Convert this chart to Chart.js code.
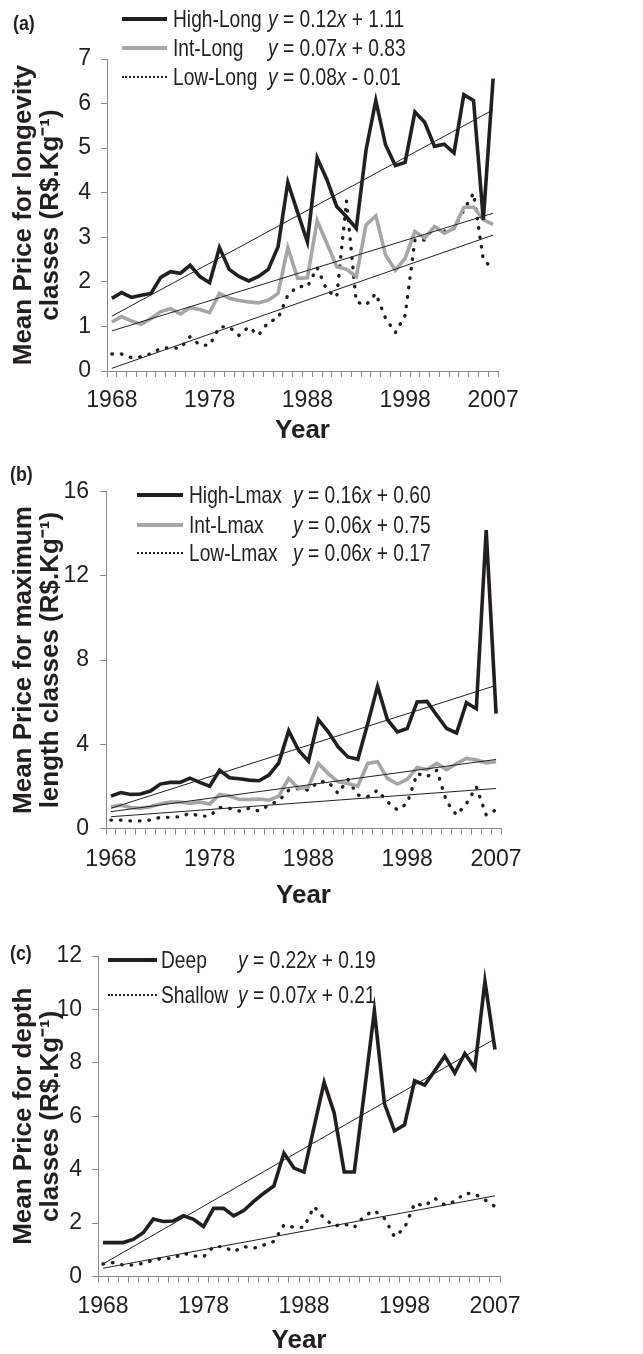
<!DOCTYPE html>
<html>
<head>
<meta charset="utf-8">
<script src="https://cdn.jsdelivr.net/npm/chart.js@4.4.1/dist/chart.umd.min.js"></script>
<style>
html,body{margin:0;padding:0;background:#fff;}
#wrap{position:relative;width:643px;height:1354px;overflow:hidden;font-family:'Liberation Sans',Arial,Helvetica,sans-serif;color:#231f20;}
canvas{position:absolute;left:0;}
.t{position:absolute;white-space:nowrap;font-size:24px;line-height:24px;transform:scaleX(0.8);transform-origin:0 50%;}
.pl{position:absolute;white-space:nowrap;font-weight:bold;font-size:21px;line-height:21px;transform:scaleX(0.85);transform-origin:0 50%;}
.sw{position:absolute;height:0;}
</style>
</head>
<body>
<div id="wrap">
  <canvas id="ca" width="643" height="444" style="top:0px"></canvas>
  <canvas id="cb" width="643" height="465" style="top:444px"></canvas>
  <canvas id="cc" width="643" height="445" style="top:909px"></canvas>
</div>
<script>
// ---------- DATA ----------
const years = ['1968','1969','1970','1971','1972','1973','1974','1975','1976','1977',
               '1978','1979','1980','1981','1982','1983','1984','1985','1986','1987',
               '1988','1989','1990','1991','1992','1993','1994','1995','1996','1997',
               '1998','1999','2000','2001','2002','2003','2004','2005','2006','2007'];
const xTickLabels = ['1968','1978','1988','1998','2007'];

// (a) longevity classes
const namesA = ['High-Long','Int-Long','Low-Long'];
const eqA = ['y = 0.12x + 1.11','y = 0.07x + 0.83','y = 0.08x - 0.01'];
const highLong = [1.63,1.76,1.65,1.70,1.74,2.10,2.23,2.19,2.37,2.12,1.98,2.77,2.28,2.12,2.02,2.12,2.28,2.79,4.23,3.56,
                  2.90,4.78,4.29,3.69,3.46,3.20,4.96,6.07,5.07,4.61,4.68,5.81,5.58,5.04,5.09,4.89,6.20,6.07,3.39,6.56];
const intLong  = [1.10,1.22,1.12,1.05,1.18,1.33,1.40,1.28,1.42,1.38,1.31,1.74,1.63,1.58,1.55,1.53,1.59,1.74,2.77,2.08,
                  2.09,3.37,2.86,2.34,2.28,2.12,3.28,3.48,2.60,2.26,2.53,3.13,2.98,3.24,3.09,3.20,3.67,3.68,3.39,3.29];
const lowLong  = [0.38,0.38,0.30,0.32,0.39,0.51,0.52,0.51,0.77,0.58,0.58,0.99,0.99,0.80,0.99,0.80,1.10,1.18,1.70,1.90,
                  1.89,2.32,1.81,1.66,3.82,1.55,1.48,1.74,1.18,0.86,1.25,2.94,2.94,3.24,3.13,3.20,3.61,3.99,2.49,2.30];
const trendHighLong = [1.23, 5.86];
const trendIntLong  = [0.90, 3.54];
const trendLowLong  = [0.06, 3.05];

// (b) maximum length classes
const namesB = ['High-Lmax','Int-Lmax','Low-Lmax'];
const eqB = ['y = 0.16x + 0.60','y = 0.06x + 0.75','y = 0.06x + 0.17'];
const highLmax = [1.54,1.71,1.62,1.64,1.78,2.11,2.19,2.19,2.39,2.19,2.01,2.77,2.41,2.36,2.30,2.27,2.54,3.12,4.64,3.72,
                  3.20,5.17,4.59,3.88,3.40,3.29,4.98,6.75,5.17,4.59,4.75,6.01,6.04,5.38,4.75,4.54,5.98,5.69,14.18,5.46];
const intLmax  = [1.03,1.11,1.00,0.96,1.03,1.16,1.26,1.26,1.19,1.26,1.16,1.62,1.54,1.38,1.38,1.40,1.35,1.54,2.38,1.90,
                  1.98,3.09,2.61,2.22,2.14,2.01,3.09,3.17,2.38,2.11,2.33,2.90,2.80,3.09,2.80,3.09,3.33,3.25,3.12,3.17];
const lowLmax  = [0.40,0.40,0.36,0.36,0.40,0.53,0.53,0.56,0.72,0.59,0.59,1.00,0.96,0.83,0.96,0.83,1.11,1.32,1.82,1.90,
                  1.82,2.22,2.22,1.67,2.33,1.59,1.51,1.82,1.27,0.88,1.19,2.61,2.46,2.77,1.27,0.64,1.19,1.98,0.64,0.88];
const trendHighLmax = [0.96, 6.80];
const trendIntLmax  = [0.80, 3.28];
const trendLowLmax  = [0.56, 1.90];

// (c) depth classes
const namesC = ['Deep','Shallow'];
const eqC = ['y = 0.22x + 0.19','y = 0.07x + 0.21'];
const deep    = [1.27,1.27,1.27,1.39,1.64,2.15,2.06,2.08,2.28,2.14,1.87,2.55,2.55,2.27,2.47,2.81,3.12,3.39,4.62,4.06,
                 3.91,5.60,7.27,6.12,3.91,3.91,6.90,9.95,6.47,5.45,5.68,7.33,7.17,7.70,8.25,7.62,8.35,7.80,11.05,8.50];
const shallow = [0.47,0.52,0.43,0.43,0.49,0.62,0.68,0.68,0.87,0.77,0.74,1.12,1.12,0.93,1.12,1.06,1.18,1.31,1.93,1.84,
                 1.84,2.62,2.18,1.89,1.97,1.84,2.27,2.47,2.18,1.49,1.81,2.74,2.64,2.93,2.68,2.81,3.12,3.09,2.87,2.62];
const trendDeep    = [0.47, 8.90];
const trendShallow = [0.31, 3.02];

const yTitleA = ['Mean Price for longevity', 'classes (R$.Kg\u207B\u00B9)'];
const yTitleB = ['Mean Price for maximum', 'length classes (R$.Kg\u207B\u00B9)'];
const yTitleC = ['Mean Price for depth', 'classes (R$.Kg\u207B\u00B9)'];

// ---------- STYLE ----------
const FONT = "'Liberation Sans', Arial, Helvetica, sans-serif";
const TXT = '#231f20';
const AXIS = '#8c8c8c';
const BLACK = '#231f20';
const GREY = '#a6a6a6';

function solid(data, color) {
  return {data: data, borderColor: color, borderWidth: 3.6, fill: false, pointRadius: 0, tension: 0, borderJoinStyle: 'miter', order: 1};
}
function dotted(data) {
  return {data: data, borderColor: BLACK, borderWidth: 3.4, borderDash: [0.5, 9], borderCapStyle: 'round', fill: false, pointRadius: 0, tension: 0, order: 1};
}
function trend(t) {
  return {data: [{x: years[0], y: t[0]}, {x: years[years.length - 1], y: t[1]}], borderColor: BLACK, borderWidth: 1, fill: false, pointRadius: 0, tension: 0, order: 0};
}

function build(id, p) {
  return new Chart(document.getElementById(id), {
    type: 'line',
    data: {labels: years, datasets: p.datasets},
    options: {
      responsive: false, animation: false, devicePixelRatio: 1,
      layout: {padding: {left: 0, top: p.top, right: 643 - p.right, bottom: 0}},
      plugins: {legend: {display: false}, tooltip: {enabled: false}},
      scales: {
        x: {
          type: 'category', offset: true,
          grid: {offset: true, drawOnChartArea: false, color: AXIS, tickLength: 6, lineWidth: 1},
          border: {color: AXIS, width: 1},
          ticks: {autoSkip: false, maxRotation: 0, minRotation: 0, padding: p.xPad, color: TXT,
                  font: {family: FONT, size: 23},
                  callback: (v, i) => xTickLabels.includes(years[i]) ? years[i] : ''},
          title: {display: true, text: 'Year', color: TXT, font: {family: FONT, size: 26, weight: 'bold', lineHeight: 1}, padding: 0},
          afterFit: s => { s.height = p.h - p.bottom; }
        },
        y: {
          min: 0, max: p.yMax,
          ticks: {stepSize: p.yStep, padding: p.yPad, color: TXT, font: {family: FONT, size: 23}},
          grid: {drawOnChartArea: false, color: AXIS, tickLength: 6, lineWidth: 1},
          border: {color: AXIS, width: 1},
          title: {display: true, text: p.yTitle, color: TXT, font: {family: FONT, size: 26, weight: 'bold', lineHeight: 1.05}, padding: {top: 10, bottom: 0}},
          afterFit: s => { s.width = p.left; }
        }
      }
    }
  });
}

build('ca', {h: 444, top: 59, bottom: 371, left: 107, right: 498, yMax: 7, yStep: 1, xPad: 10, yPad: 10, yTitle: yTitleA,
  datasets: [solid(highLong, BLACK), solid(intLong, GREY), dotted(lowLong),
             trend(trendHighLong), trend(trendIntLong), trend(trendLowLong)]});
build('cb', {h: 465, top: 47.7, bottom: 384.5, left: 106, right: 501, yMax: 16, yStep: 4, xPad: 11, yPad: 11, yTitle: yTitleB,
  datasets: [solid(highLmax, BLACK), solid(intLmax, GREY), dotted(lowLmax),
             trend(trendHighLmax), trend(trendIntLmax), trend(trendLowLmax)]});
build('cc', {h: 445, top: 47, bottom: 367.5, left: 98, right: 500, yMax: 12, yStep: 2, xPad: 10, yPad: 10, yTitle: yTitleC,
  datasets: [solid(deep, BLACK), dotted(shallow), trend(trendDeep), trend(trendShallow)]});

// ---------- LEGENDS & PANEL LABELS (HTML text) ----------
const wrap = document.getElementById('wrap');
function addText(cls, html, x, cy, h) {
  const d = document.createElement('div');
  d.className = cls;
  d.innerHTML = html;
  d.style.left = x + 'px';
  d.style.top = (cy - h / 2) + 'px';
  wrap.appendChild(d);
}
function addSwatch(x0, x1, cy, style) {
  const d = document.createElement('div');
  d.className = 'sw';
  d.style.left = x0 + 'px';
  d.style.width = (x1 - x0) + 'px';
  const w = style === 'dot' ? 2 : 4;
  d.style.top = (cy - w / 2) + 'px';
  d.style.borderTop = style === 'dot' ? '2px dotted ' + BLACK : '4px solid ' + style;
  wrap.appendChild(d);
}
function italic(eq) { return eq.replace(/([xy])/g, '<i>$1</i>'); }
function legend(names, eqs, styles, L) {
  names.forEach((n, i) => {
    addSwatch(L.sx0, L.sx1, L.rows[i], styles[i]);
    addText('t', n, L.nx, L.rows[i], 24);
    addText('t', italic(eqs[i]), L.ex, L.rows[i], 24);
  });
}
legend(namesA, eqA, [BLACK, GREY, 'dot'], {sx0: 122, sx1: 167, nx: 173, ex: 268, rows: [19, 48, 77]});
legend(namesB, eqB, [BLACK, GREY, 'dot'], {sx0: 137, sx1: 183, nx: 189, ex: 293, rows: [495, 525, 553]});
legend(namesC, eqC, [BLACK, 'dot'], {sx0: 108, sx1: 157, nx: 161, ex: 238, rows: [960, 995]});
addText('pl', '(a)', 13, 22, 21);
addText('pl', '(b)', 10, 473, 21);
addText('pl', '(c)', 10, 952, 21);
</script>
</body>
</html>
